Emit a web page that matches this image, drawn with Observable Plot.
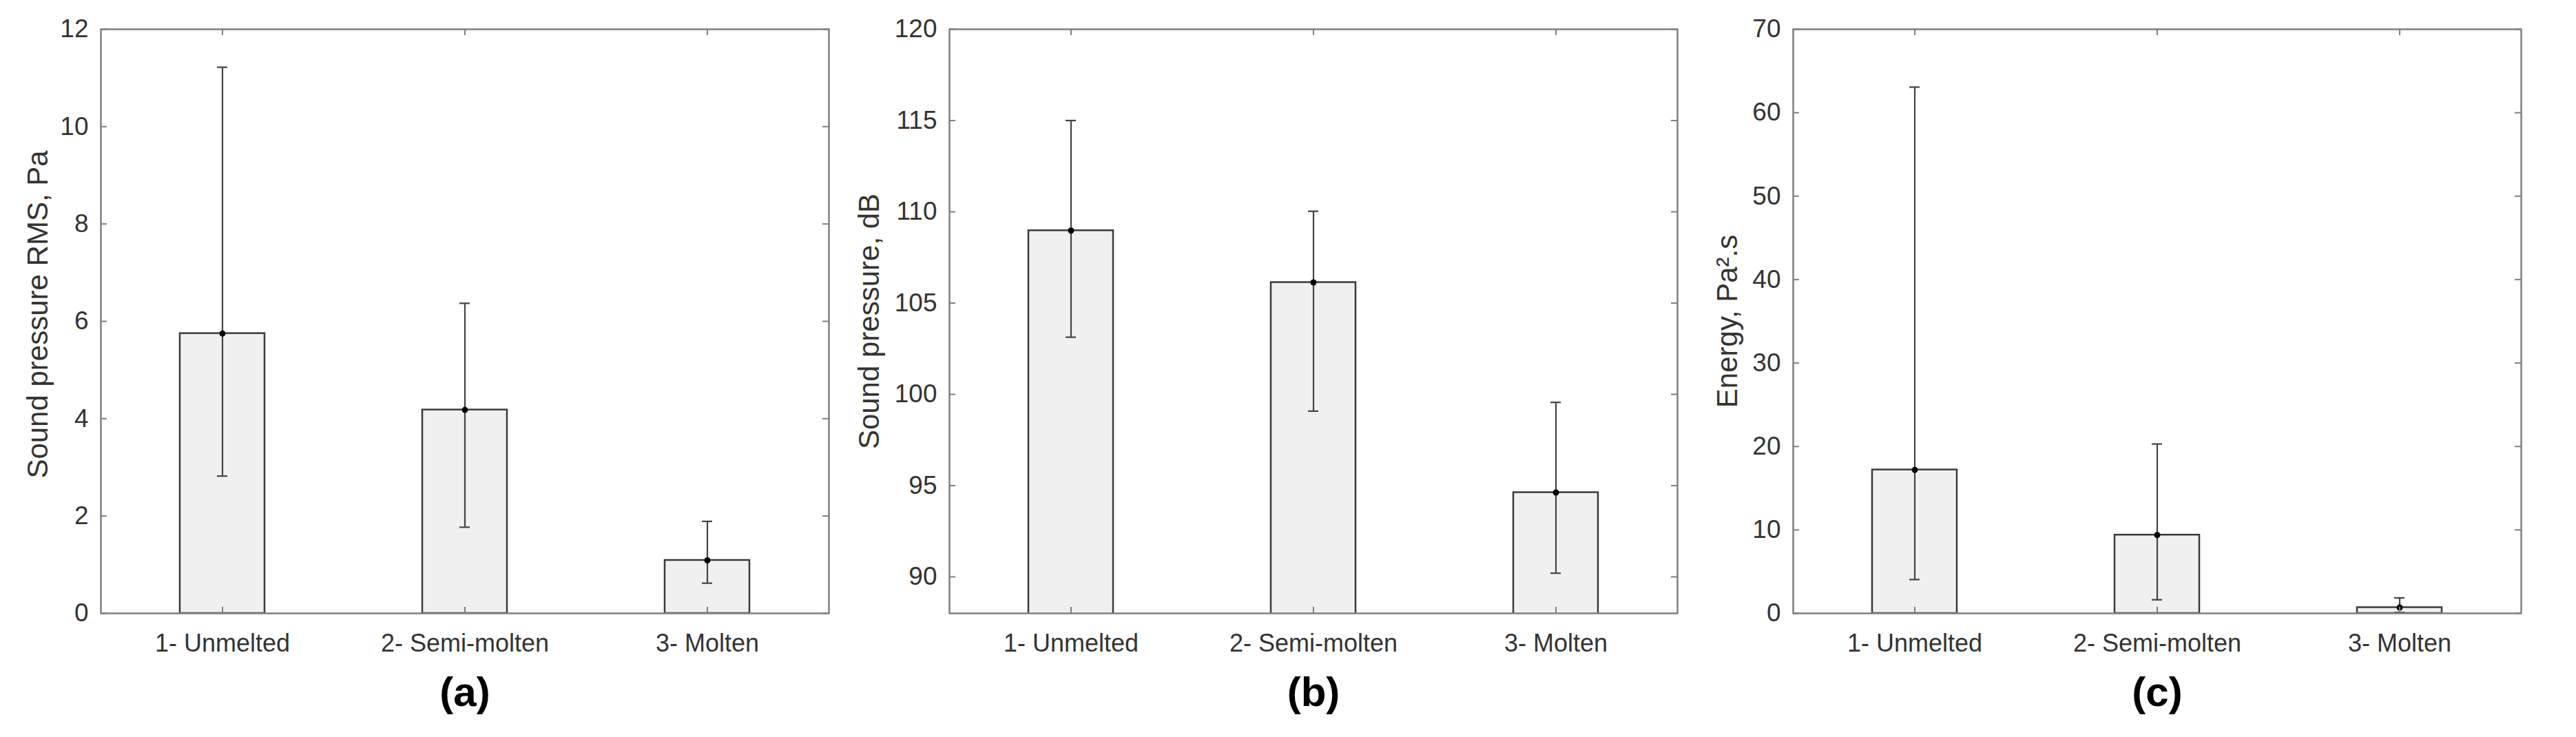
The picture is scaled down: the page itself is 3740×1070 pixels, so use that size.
<!DOCTYPE html>
<html>
<head>
<meta charset="utf-8">
<script src="https://cdn.jsdelivr.net/npm/d3@7"></script>
<script src="https://cdn.jsdelivr.net/npm/@observablehq/plot@0.6"></script>
<style>
  html, body { margin: 0; padding: 0; background: #fff; }
  #wrap { position: relative; width: 3740px; height: 1070px; background: #fff; overflow: hidden; }
  #wrap > div { position: absolute; top: 0; }
</style>
</head>
<body>
<div id="wrap">
  <div id="pa" style="left:0px"></div>
  <div id="pb" style="left:1217px"></div>
  <div id="pc" style="left:2454px"></div>
</div>
<script>
// ---- data ----
const categories = ["1- Unmelted", "2- Semi-molten", "3- Molten"];

const rmsMean = [5.75, 4.18, 1.09];
const rmsLow  = [2.82, 1.77, 0.62];
const rmsHigh = [11.22, 6.37, 1.89];
const rmsTicks = [0, 2, 4, 6, 8, 10, 12];
const rmsDomain = [0, 12];

const splMean = [108.97, 106.13, 94.62];
const splLow  = [103.13, 99.08, 90.2];
const splHigh = [115.0, 110.03, 99.56];
const splTicks = [90, 95, 100, 105, 110, 115, 120];
const splDomain = [88, 120];

const energyMean = [17.2, 9.39, 0.7];
const energyLow  = [4.05, 1.63, 0.1];
const energyHigh = [63.07, 20.3, 1.85];
const energyTicks = [0, 10, 20, 30, 40, 50, 60, 70];
const energyDomain = [0, 70];

const labels = ["Sound pressure RMS, Pa", "Sound pressure, dB", "Energy, Pa\u00b2.s"];
const captions = ["(a)", "(b)", "(c)"];

// ---- drawing ----
const FONT = "'Liberation Sans', Arial, Helvetica, sans-serif";
const H = 1070, MT = 42, MB = 180;
const frameColor = "#7f7f7f";
const inkColor = "#333333";
const tickLen = 9;

function panel({mean, low, high, ticks, domain, label, caption, ml, mr, labelDx, labelDy, width}) {
  const rows = categories.map((c, i) => ({c, m: mean[i], lo: low[i], hi: high[i]}));
  const plotW = width - ml - mr;
  const plotH = H - MT - MB;
  return Plot.plot({
    width, height: H,
    marginTop: MT, marginBottom: MB, marginLeft: ml, marginRight: mr,
    style: {fontFamily: FONT, background: "#fff", color: inkColor},
    x: {type: "band", domain: categories, paddingInner: 0.65, paddingOuter: 0.325, label: null},
    y: {domain, label: null},
    marks: [
      Plot.barY(rows, {x: "c", y: "m", fill: "#f0f0f0", stroke: "#3a3a3a", strokeWidth: 2.5, clip: true}),
      Plot.ruleX(rows, {x: "c", y1: "lo", y2: "hi", stroke: "#444", strokeWidth: 2.2}),
      Plot.tickY(rows, {x: "c", y: "lo", stroke: "#444", strokeWidth: 2.2, insetLeft: 54, insetRight: 54}),
      Plot.tickY(rows, {x: "c", y: "hi", stroke: "#444", strokeWidth: 2.2, insetLeft: 54, insetRight: 54}),
      Plot.dot(rows, {x: "c", y: "m", r: 4.5, fill: "#000", stroke: "none"}),
      // inward ticks (MATLAB box style)
      Plot.tickX(categories, {x: d => d, stroke: frameColor, strokeWidth: 2, insetTop: plotH - tickLen}),
      Plot.tickX(categories, {x: d => d, stroke: frameColor, strokeWidth: 2, insetBottom: plotH - tickLen}),
      Plot.tickY(ticks, {y: d => d, stroke: frameColor, strokeWidth: 2, insetRight: plotW - tickLen}),
      Plot.tickY(ticks, {y: d => d, stroke: frameColor, strokeWidth: 2, insetLeft: plotW - tickLen}),
      Plot.frame({stroke: frameColor, strokeWidth: 2.5}),
      Plot.axisX({tickSize: 0, tickPadding: 30, fontSize: 36, label: null, fill: inkColor}),
      Plot.axisY({ticks, tickSize: 0, tickPadding: 18, fontSize: 37, label: null, fill: inkColor, tickFormat: d => String(d)}),
      Plot.text([label], {text: d => d, frameAnchor: "left", textAnchor: "middle", rotate: -90, lineAnchor: "bottom",
        dx: labelDx, dy: labelDy, fontSize: 42, fill: inkColor}),
      Plot.text([caption], {text: d => d, frameAnchor: "bottom", textAnchor: "middle", lineAnchor: "top",
        dy: 92, fontSize: 60, fontWeight: "bold", fill: "#000"})
    ]
  });
}

document.getElementById("pa").appendChild(panel({
  mean: rmsMean, low: rmsLow, high: rmsHigh, ticks: rmsTicks, domain: rmsDomain,
  label: labels[0], caption: captions[0], ml: 146, mr: 14, labelDx: -78, labelDy: -10, width: 1217
}));
document.getElementById("pb").appendChild(panel({
  mean: splMean, low: splLow, high: splHigh, ticks: splTicks, domain: splDomain,
  label: labels[1], caption: captions[1], ml: 161, mr: 19, labelDx: -103, labelDy: 0, width: 1237
}));
document.getElementById("pc").appendChild(panel({
  mean: energyMean, low: energyLow, high: energyHigh, ticks: energyTicks, domain: energyDomain,
  label: labels[2], caption: captions[2], ml: 149, mr: 80, labelDx: -82, labelDy: 0, width: 1286
}));
</script>
</body>
</html>
